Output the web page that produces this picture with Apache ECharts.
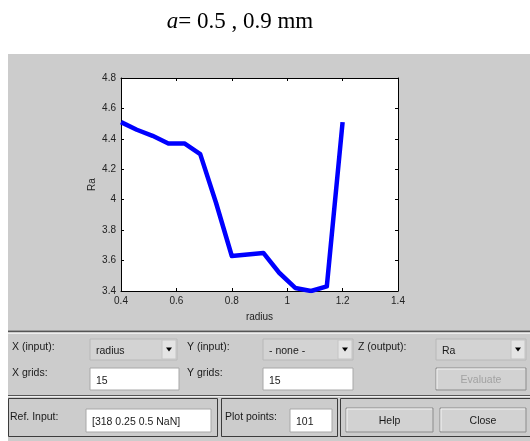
<!DOCTYPE html>
<html>
<head>
<meta charset="utf-8" />
<script src="https://cdn.jsdelivr.net/npm/echarts@6/dist/echarts.min.js"></script>
<style>
  html, body { margin: 0; padding: 0; background: #fff; }
  #surfview { width: 530px; height: 441px; }
</style>
</head>
<body>
<div id="surfview"></div>
<script>
// data (15 grid points over radius)
const radius = [0.4, 0.457, 0.514, 0.571, 0.629, 0.686, 0.743, 0.8, 0.857, 0.914, 0.971, 1.029, 1.086, 1.143, 1.2];
const ra = [4.51, 4.46, 4.42, 4.37, 4.37, 4.30, 3.98, 3.63, 3.64, 3.65, 3.52, 3.42, 3.40, 3.43, 4.51];
const xRange = { min: 0.4, max: 1.4, step: 0.2 };
const yRange = { min: 3.4, max: 4.8, step: 0.2 };
const xName = "radius";
const yName = "Ra";
const heading = ["a", "= 0.5 , 0.9 mm"];

const sans = "Liberation Sans, Arial, sans-serif";
const ink = "#1a1a1a";

function box(x, y, w, h, fill, stroke) {
  return { type: "rect", shape: { x: x, y: y, width: w, height: h },
    style: { fill: fill, stroke: stroke || null, lineWidth: 1 }, silent: true };
}
function label(x, y, text, opts) {
  opts = opts || {};
  return { type: "text", silent: true, z: 5,
    style: { x: x, y: y, text: text, fill: opts.color || ink,
      font: (opts.size || 10.5) + "px " + sans,
      textAlign: opts.align || "left", textVerticalAlign: "middle" } };
}
function hline(y, color, x1, x2) {
  return { type: "line", silent: true, shape: { x1: x1 || 8, y1: y, x2: x2 || 530, y2: y },
    style: { stroke: color, lineWidth: 1 } };
}
function dropdown(x, y, w, h, text) {
  return [
    box(x, y, w, h, "#d3d3d3", "#b8b8b8"),
    box(x + w - 15, y + 1, 14, h - 2, "#e4e4e4", "#c4c4c4"),
    { type: "polygon", silent: true, z: 5,
      shape: { points: [[x + w - 11, y + h / 2 - 2], [x + w - 5, y + h / 2 - 2], [x + w - 8, y + h / 2 + 2]] },
      style: { fill: "#000" } },
    label(x + 6, y + h / 2 + 2, text)
  ];
}
function textbox(x, y, w, h, text) {
  return [box(x, y, w, h, "#fff", "#a8a8a8"), label(x + 6, y + h / 2 + 2, text)];
}
function button(x, y, w, h, text, color) {
  return [box(x, y, w, h, "#d2d2d2", "#8c8c8c"),
    { type: "polyline", silent: true, shape: { points: [[x + 1, y + h - 1], [x + 1, y + 1], [x + w - 1, y + 1]] },
      style: { stroke: "#f4f4f4", lineWidth: 1, fill: null } },
    label(x + w / 2, y + h / 2 + 1, text, { align: "center", color: color })];
}

const panel = [].concat(
  [box(8, 54, 522, 387, "#cccccc")],
  [hline(330.5, "#9a9a9a"), hline(331.5, "#555"), hline(333.5, "#eeeeee")],
  [label(12, 347, "X (input):"), label(187, 347, "Y (input):"), label(358, 347, "Z (output):")],
  dropdown(90, 339, 87, 21, "radius"),
  dropdown(263, 339, 90, 21, "- none -"),
  dropdown(436, 339, 90, 21, "Ra"),
  [label(12, 373, "X grids:"), label(187, 373, "Y grids:")],
  textbox(90, 368, 89, 22, "15"),
  textbox(263, 368, 90, 22, "15"),
  button(436, 368, 90, 22, "Evaluate", "#a2a2a2"),
  [hline(395.5, "#555"), hline(396.5, "#eeeeee")],
  [{ type: "rect", silent: true, shape: { x: 8.5, y: 398.5, width: 209, height: 38 }, style: { fill: null, stroke: "#3c3c3c", lineWidth: 1 } },
   { type: "rect", silent: true, shape: { x: 221.5, y: 398.5, width: 116, height: 38 }, style: { fill: null, stroke: "#3c3c3c", lineWidth: 1 } },
   { type: "rect", silent: true, shape: { x: 340.5, y: 398.5, width: 190, height: 38 }, style: { fill: null, stroke: "#3c3c3c", lineWidth: 1 } }],
  [label(10, 417, "Ref. Input:"), label(225, 417, "Plot points:")],
  textbox(86, 409, 125, 23, "[318 0.25 0.5 NaN]"),
  textbox(290, 409, 42, 23, "101"),
  button(346, 408, 87, 24, "Help"),
  button(440, 408, 86, 24, "Close"),
  [{ type: "text", silent: true, z: 5,
     style: { x: 240, y: 22, textAlign: "center", textVerticalAlign: "middle",
       text: "{i|" + heading[0] + "}{n|" + heading[1] + "}",
       rich: { i: { fontFamily: "Liberation Serif", fontStyle: "italic", fontSize: 23, fill: "#000" },
               n: { fontFamily: "Liberation Serif", fontSize: 23, fill: "#000" } } } }]
);

panel.forEach(function (el) { if (el.z === undefined) el.z = -10; });

const chart = echarts.init(document.getElementById("surfview"));

const axisBase = {
  type: "value",
  axisLine: { show: true, lineStyle: { color: "#000", width: 1 } },
  axisTick: { show: true, inside: true, length: 3, lineStyle: { color: "#000" } },
  splitLine: { show: false }
};
const tickFont = { color: "#222", fontSize: 10, fontFamily: sans };

const option = {
  animation: false,
  backgroundColor: "#fff",
  graphic: { elements: panel },
  grid: { left: 121, top: 78, width: 277, height: 213, show: true, backgroundColor: "#fff", borderWidth: 0 },
  xAxis: [
    Object.assign({}, axisBase, {
      position: "bottom", min: xRange.min, max: xRange.max, interval: xRange.step,
      axisLabel: Object.assign({ margin: 5 }, tickFont),
      name: xName, nameLocation: "middle", nameGap: 21, nameMoveOverlap: false,
      nameTextStyle: { color: "#222", fontSize: 10, fontFamily: sans }
    }),
    Object.assign({}, axisBase, {
      position: "top", min: xRange.min, max: xRange.max, interval: xRange.step,
      axisLabel: { show: false }
    })
  ],
  yAxis: [
    Object.assign({}, axisBase, {
      position: "left", min: yRange.min, max: yRange.max, interval: yRange.step,
      axisLabel: Object.assign({ margin: 5 }, tickFont),
      name: yName, nameLocation: "middle", nameGap: 24, nameRotate: 90, nameMoveOverlap: false,
      nameTextStyle: { color: "#222", fontSize: 10, fontFamily: sans }
    }),
    Object.assign({}, axisBase, {
      position: "right", min: yRange.min, max: yRange.max, interval: yRange.step,
      axisLabel: { show: false }
    })
  ],
  series: [{
    type: "line",
    data: radius.map(function (r, i) { return [r, ra[i]]; }),
    symbol: "none",
    clip: true,
    lineStyle: { color: "#0000ff", width: 4.5, join: "round" }
  }]
};
chart.setOption(option);
</script>
</body>
</html>
